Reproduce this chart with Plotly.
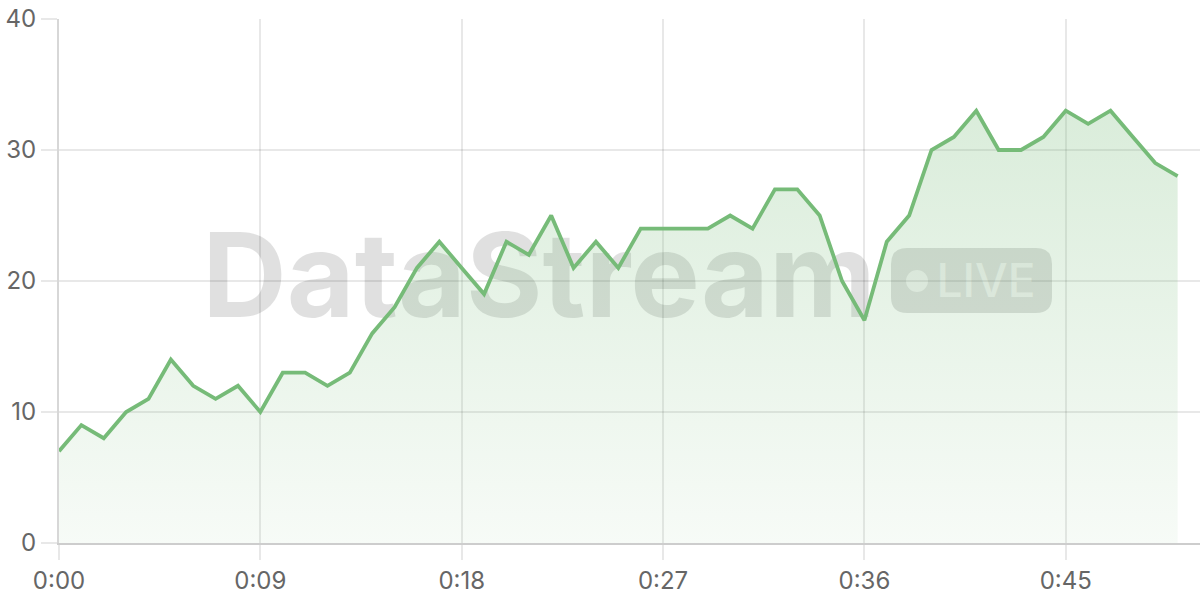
import plotly.graph_objects as go

# seconds since start and the live value at each second
seconds = list(range(51))
values = [7, 9, 8, 10, 11, 14, 12, 11, 12, 10,
          13, 13, 12, 13, 16, 18, 21, 23, 21, 19,
          23, 22, 25, 21, 23, 21, 24, 24, 24, 24,
          25, 24, 27, 27, 25, 20, 17, 23, 25, 30,
          31, 33, 30, 30, 31, 33, 32, 33, 31, 29,
          28]

x_tick_vals = [0, 9, 18, 27, 36, 45]
x_tick_text = ["0:00", "0:09", "0:18", "0:27", "0:36", "0:45"]
y_tick_vals = [0, 10, 20, 30, 40]

line_green = "rgb(118,187,120)"
tick_font = dict(family="Inter, Roboto, sans-serif", size=24, color="#666666")

fig = go.Figure()

fig.add_trace(go.Scatter(
    x=seconds, y=values,
    mode="lines",
    line=dict(color=line_green, width=3.8),
    fill="tozeroy",
    fillgradient=dict(
        type="vertical",
        start=0, stop=33,
        colorscale=[[0, "rgba(118,187,120,0.06)"], [1, "rgba(118,187,120,0.27)"]],
    ),
    hoverinfo="skip",
    showlegend=False,
))

# plot area in pixels: x 59..1200, y 19..543
def px_x(p):
    return (p - 59) / 1141

def px_y(p):
    return (543 - p) / 524

def rounded_rect(x0, y0, x1, y1, r):
    rx, ry = r / 1141, r / 524
    a, b = px_x(x0), px_x(x1)
    top, bot = px_y(y0), px_y(y1)
    return (f"M {a+rx},{top} L {b-rx},{top} Q {b},{top} {b},{top-ry} "
            f"L {b},{bot+ry} Q {b},{bot} {b-rx},{bot} "
            f"L {a+rx},{bot} Q {a},{bot} {a},{bot+ry} "
            f"L {a},{top-ry} Q {a},{top} {a+rx},{top} Z")

# watermark
fig.add_shape(
    type="rect", xref="paper", yref="paper",
    x0=px_x(200), x1=px_x(878), y0=px_y(322), y1=px_y(218),
    line=dict(width=0), fillcolor="rgba(0,0,0,0)", layer="between",
    label=dict(text="<b>DataStream</b>", textposition="middle center",
               font=dict(family="Inter, sans-serif", size=117, color="rgba(0,0,0,0.12)")),
)
fig.add_shape(
    type="path", xref="paper", yref="paper",
    path=rounded_rect(891, 248, 1052, 313, 16),
    line=dict(width=0), fillcolor="rgba(0,0,0,0.13)", layer="between",
)
fig.add_shape(
    type="circle", xref="paper", yref="paper",
    x0=px_x(906), x1=px_x(928), y0=px_y(292), y1=px_y(270),
    line=dict(width=0), fillcolor="rgba(255,255,255,0.6)", layer="between",
)
fig.add_shape(
    type="rect", xref="paper", yref="paper",
    x0=px_x(932), x1=px_x(1040), y0=px_y(300), y1=px_y(258),
    line=dict(width=0), fillcolor="rgba(0,0,0,0)", layer="between",
    label=dict(text="LIVE", textposition="middle center",
               font=dict(family="Inter, sans-serif", size=46, weight=500,
                         color="rgba(255,255,255,0.6)")),
)

fig.update_layout(
    width=1200, height=600,
    margin=dict(l=59, r=0, t=19, b=57),
    paper_bgcolor="white", plot_bgcolor="white",
    font=tick_font,
    xaxis=dict(
        range=[0, 51], automargin=False,
        tickvals=x_tick_vals, ticktext=x_tick_text,
        showgrid=True, gridcolor="rgba(0,0,0,0.09)", gridwidth=1.5,
        ticks="outside", ticklen=15, tickcolor="rgba(0,0,0,0.09)", tickwidth=1.5,
        showline=True, linecolor="rgb(205,205,205)", linewidth=2,
        zeroline=False, tickfont=tick_font,
    ),
    yaxis=dict(
        range=[0, 40], automargin=False,
        tickvals=y_tick_vals,
        showgrid=True, gridcolor="rgba(0,0,0,0.09)", gridwidth=1.5,
        ticks="outside", ticklen=16, tickcolor="rgba(0,0,0,0.09)", tickwidth=1.5,
        showline=True, linecolor="rgb(215,215,215)", linewidth=2,
        zeroline=False, tickfont=tick_font,
    ),
)

# drop the default page margin so the 1200x600 figure fills the window exactly
fig.write_html("out.html", config={"displayModeBar": False},
               post_script="document.body.style.margin='0';document.body.style.overflow='hidden';")
